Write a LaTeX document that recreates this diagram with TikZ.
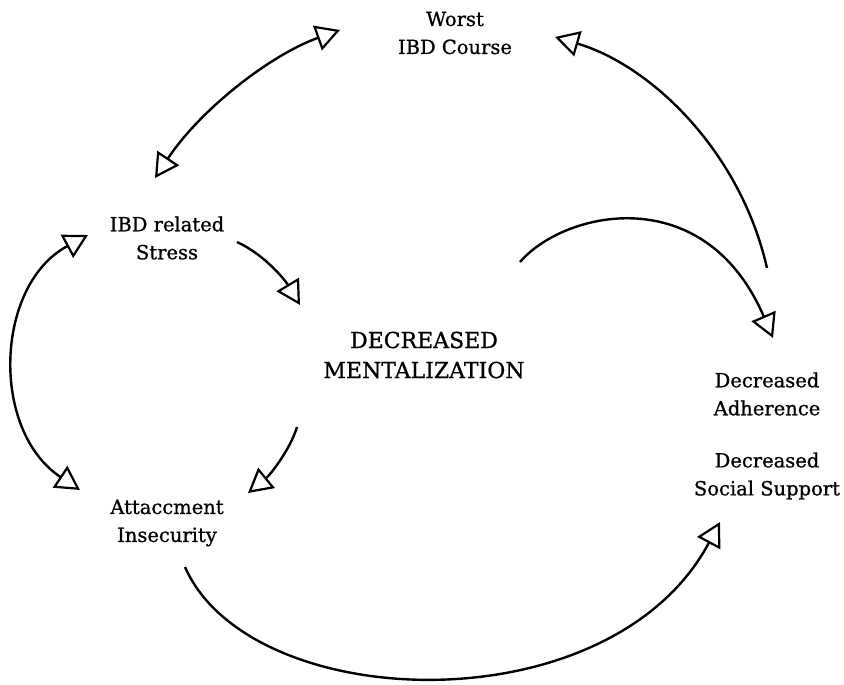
\documentclass[tikz,border=0pt]{standalone}
\usepackage{fontspec}
\setmainfont{DejaVu Serif}
\newfontfamily\lblfont{DejaVu Serif}[FakeBold=0.9]
\usepackage{tikz}
\usetikzlibrary{arrows.meta, positioning}

\begin{document}
\begin{tikzpicture}[x=1pt, y=-1pt,
    >={Triangle[open, length=24pt, width=26pt, line width=2.2pt]},
    lbl/.style={align=center, font=\lblfont\fontsize{19.5}{28}\selectfont},
    arrw/.style={->, line width=2.4pt},
    barrw/.style={<->, line width=2.4pt}
]
\useasboundingbox (0,0) rectangle (844,685);
% Labels
\node[lbl] (worst) at (455,33) {Worst\\IBD Course};
\node[lbl] (stress) at (167,238) {IBD related\\Stress};
\node[lbl, font=\lblfont\fontsize{22}{30}\selectfont] (ment) at (424,355) {DECREASED\\MENTALIZATION};
\node[lbl] (adh) at (767,394) {Decreased\\Adherence};
\node[lbl] (soc) at (767,476) {Decreased\\Social Support};
\node[lbl] (att) at (167,523) {Attaccment\\Insecurity};
% Arrow ends
\coordinate (w1) at (340,30);
\coordinate (s1) at (155,178);
\coordinate (w2) at (555,37);
\coordinate (a1) at (767,268);
\coordinate (m1) at (520,262);
\coordinate (a2) at (773,338);
\coordinate (s2) at (237,242);
\coordinate (m2) at (300,305);
\coordinate (m3) at (297,427);
\coordinate (t1) at (248,493);
\coordinate (s3) at (88,235);
\coordinate (t2) at (80,490);
\coordinate (t3) at (185,567);
\coordinate (o1) at (720,522);
% Arrows
\draw[barrw] (s1) .. controls (200,110) and (270,55) .. (w1);
\draw[arrw] (a1) .. controls (740,150) and (650,65) .. (w2);
\draw[arrw] (m1) .. controls (565,210) and (705,180) .. (a2);
\draw[arrw] (s2) .. controls (265,255) and (285,280) .. (m2);
\draw[arrw] (m3) .. controls (290,450) and (270,475) .. (t1);
\draw[barrw] (s3) .. controls (-5,285) and (-10,430) .. (t2);
\draw[arrw] (t3) .. controls (250,715) and (610,728) .. (o1);
\end{tikzpicture}
\end{document}
